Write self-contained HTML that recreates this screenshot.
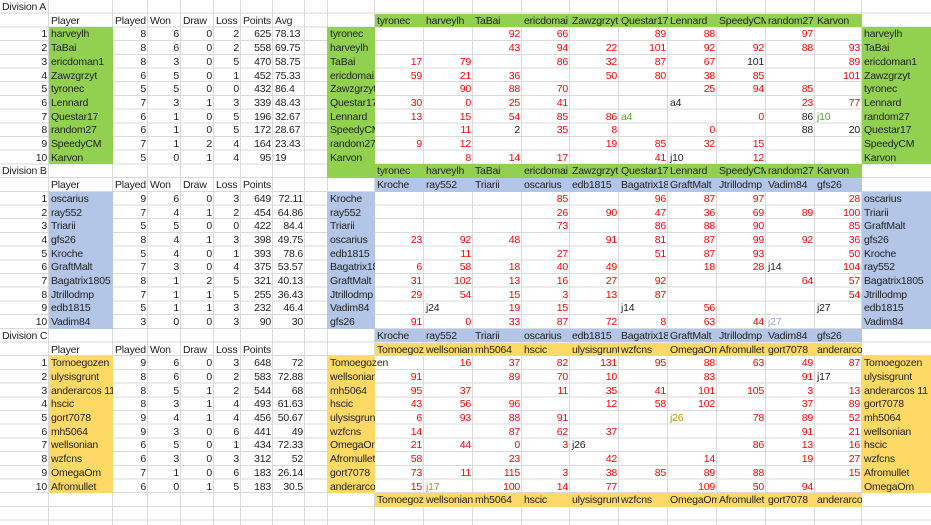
<!DOCTYPE html>
<html><head><meta charset="utf-8"><style>
html,body{margin:0;padding:0}
body{width:931px;height:525px;position:relative;overflow:hidden;background:#fff repeating-linear-gradient(to bottom,transparent 0,transparent 12.7px,#dadada 12.7px,#dadada 13.7px);font-family:"Liberation Sans",sans-serif;font-size:10.5px;letter-spacing:-0.2px;color:#222}
.v{position:absolute;top:0;width:1px;height:525px;background:#dadada}
.f{position:absolute}
.G{background:#92d050}.B{background:#b4c6e7}.Y{background:#ffd966}
.w{position:absolute;left:0;width:931px;height:13.7px}
.w span{position:absolute;top:0;height:13.7px;line-height:14px;overflow:hidden;white-space:nowrap;padding:0 2px;box-sizing:border-box}
.R{text-align:right}
.w span.X{overflow:visible;width:auto}
.x{color:#f00}.cg{color:#4ea72e}.cb{color:#8ea9db}.co{color:#bf8f00}
.a{left:0;width:49px}.b{left:49px;width:64px}.c{left:113px;width:35px}.d{left:148px;width:33px}.e{left:181px;width:33px}.ff{left:214px;width:27px}.g{left:241px;width:32px}.h{left:273px;width:32px}.i{left:305px;width:23px}.j{left:328px;width:47px}
.k{left:375px;width:49px}.l{left:424px;width:49px}.m{left:473px;width:49px}.n{left:522px;width:48px}.o{left:570px;width:49px}.p{left:619px;width:49px}.q{left:668px;width:49px}.r{left:717px;width:49px}.s{left:766px;width:49px}.t{left:815px;width:47px}.u{left:862px;width:69px}
</style></head><body>
<div class="v" style="left:48px"></div><div class="v" style="left:112px"></div><div class="v" style="left:147px"></div><div class="v" style="left:180px"></div><div class="v" style="left:213px"></div><div class="v" style="left:240px"></div><div class="v" style="left:272px"></div><div class="v" style="left:304px"></div><div class="v" style="left:327px"></div><div class="v" style="left:374px"></div><div class="v" style="left:423px"></div><div class="v" style="left:472px"></div><div class="v" style="left:521px"></div><div class="v" style="left:569px"></div><div class="v" style="left:618px"></div><div class="v" style="left:667px"></div><div class="v" style="left:716px"></div><div class="v" style="left:765px"></div><div class="v" style="left:814px"></div><div class="v" style="left:861px"></div>

<div class="f G" style="left:49px;top:27.4px;width:64px;height:137px"></div>
<div class="f G" style="left:327px;top:27.4px;width:48px;height:151px"></div>
<div class="f G" style="left:375px;top:13.7px;width:487px;height:13.7px"></div>
<div class="f G" style="left:375px;top:164.4px;width:487px;height:13.7px"></div>
<div class="f G" style="left:862px;top:27.4px;width:69px;height:137px"></div>

<div class="f B" style="left:49px;top:191.8px;width:64px;height:137px"></div>
<div class="f B" style="left:327px;top:191.8px;width:48px;height:137px"></div>
<div class="f B" style="left:375px;top:178.1px;width:487px;height:13.7px"></div>
<div class="f B" style="left:375px;top:328.8px;width:487px;height:13.7px"></div>
<div class="f B" style="left:862px;top:191.8px;width:69px;height:137px"></div>

<div class="f Y" style="left:49px;top:356.2px;width:64px;height:137px"></div>
<div class="f Y" style="left:327px;top:356.2px;width:48px;height:137px"></div>
<div class="f Y" style="left:375px;top:342.5px;width:487px;height:13.7px"></div>
<div class="f Y" style="left:375px;top:493.2px;width:487px;height:13.7px"></div>
<div class="f Y" style="left:862px;top:356.2px;width:69px;height:137px"></div>

<!-- Division A -->
<div class="w" style="top:0"><span class="a X">Division A</span></div>
<div class="w" style="top:13.7px"><span class="b">Player</span><span class="c">Played</span><span class="d">Won</span><span class="e">Draw</span><span class="ff">Loss</span><span class="g">Points</span><span class="h">Avg</span>
<span class="k">tyronec</span><span class="l">harveylh</span><span class="m">TaBai</span><span class="n">ericdomai</span><span class="o">Zawzgrzyt</span><span class="p">Questar17</span><span class="q">Lennard</span><span class="r">SpeedyCM</span><span class="s">random27</span><span class="t">Karvon</span></div>
<div class="w" style="top:27.4px"><span class="a R">1</span><span class="b">harveylh</span><span class="c R">8</span><span class="d R">6</span><span class="e R">0</span><span class="ff R">2</span><span class="g R">625</span><span class="h">78.13</span><span class="j">tyronec</span><span class="m R x">92</span><span class="n R x">66</span><span class="p R x">89</span><span class="q R x">88</span><span class="s R x">97</span><span class="u">harveylh</span></div>
<div class="w" style="top:41.1px"><span class="a R">2</span><span class="b">TaBai</span><span class="c R">8</span><span class="d R">6</span><span class="e R">0</span><span class="ff R">2</span><span class="g R">558</span><span class="h">69.75</span><span class="j">harveylh</span><span class="m R x">43</span><span class="n R x">94</span><span class="o R x">22</span><span class="p R x">101</span><span class="q R x">92</span><span class="r R x">92</span><span class="s R x">88</span><span class="t R x">93</span><span class="u">TaBai</span></div>
<div class="w" style="top:54.8px"><span class="a R">3</span><span class="b">ericdoman1</span><span class="c R">8</span><span class="d R">3</span><span class="e R">0</span><span class="ff R">5</span><span class="g R">470</span><span class="h">58.75</span><span class="j">TaBai</span><span class="k R x">17</span><span class="l R x">79</span><span class="n R x">86</span><span class="o R x">32</span><span class="p R x">87</span><span class="q R x">67</span><span class="r R">101</span><span class="t R x">89</span><span class="u">ericdoman1</span></div>
<div class="w" style="top:68.5px"><span class="a R">4</span><span class="b">Zawzgrzyt</span><span class="c R">6</span><span class="d R">5</span><span class="e R">0</span><span class="ff R">1</span><span class="g R">452</span><span class="h">75.33</span><span class="j">ericdomai</span><span class="k R x">59</span><span class="l R x">21</span><span class="m R x">36</span><span class="o R x">50</span><span class="p R x">80</span><span class="q R x">38</span><span class="r R x">85</span><span class="t R x">101</span><span class="u">Zawzgrzyt</span></div>
<div class="w" style="top:82.2px"><span class="a R">5</span><span class="b">tyronec</span><span class="c R">5</span><span class="d R">5</span><span class="e R">0</span><span class="ff R">0</span><span class="g R">432</span><span class="h">86.4</span><span class="j">Zawzgrzyt</span><span class="l R x">90</span><span class="m R x">88</span><span class="n R x">70</span><span class="q R x">25</span><span class="r R x">94</span><span class="s R x">85</span><span class="u">tyronec</span></div>
<div class="w" style="top:95.9px"><span class="a R">6</span><span class="b">Lennard</span><span class="c R">7</span><span class="d R">3</span><span class="e R">1</span><span class="ff R">3</span><span class="g R">339</span><span class="h">48.43</span><span class="j">Questar17</span><span class="k R x">30</span><span class="l R x">0</span><span class="m R x">25</span><span class="n R x">41</span><span class="q">a4</span><span class="s R x">23</span><span class="t R x">77</span><span class="u">Lennard</span></div>
<div class="w" style="top:109.6px"><span class="a R">7</span><span class="b">Questar17</span><span class="c R">6</span><span class="d R">1</span><span class="e R">0</span><span class="ff R">5</span><span class="g R">196</span><span class="h">32.67</span><span class="j">Lennard</span><span class="k R x">13</span><span class="l R x">15</span><span class="m R x">54</span><span class="n R x">85</span><span class="o R x">86</span><span class="p cg">a4</span><span class="r R x">0</span><span class="s R">86</span><span class="t cg">j10</span><span class="u">random27</span></div>
<div class="w" style="top:123.3px"><span class="a R">8</span><span class="b">random27</span><span class="c R">6</span><span class="d R">1</span><span class="e R">0</span><span class="ff R">5</span><span class="g R">172</span><span class="h">28.67</span><span class="j">SpeedyCM</span><span class="l R x">11</span><span class="m R">2</span><span class="n R x">35</span><span class="o R x">8</span><span class="q R x">0</span><span class="s R">88</span><span class="t R">20</span><span class="u">Questar17</span></div>
<div class="w" style="top:137px"><span class="a R">9</span><span class="b">SpeedyCM</span><span class="c R">7</span><span class="d R">1</span><span class="e R">2</span><span class="ff R">4</span><span class="g R">164</span><span class="h">23.43</span><span class="j">random27</span><span class="k R x">9</span><span class="l R x">12</span><span class="o R x">19</span><span class="p R x">85</span><span class="q R x">32</span><span class="r R x">15</span><span class="u">SpeedyCM</span></div>
<div class="w" style="top:150.7px"><span class="a R">10</span><span class="b">Karvon</span><span class="c R">5</span><span class="d R">0</span><span class="e R">1</span><span class="ff R">4</span><span class="g R">95</span><span class="h">19</span><span class="j">Karvon</span><span class="l R x">8</span><span class="m R x">14</span><span class="n R x">17</span><span class="p R x">41</span><span class="q">j10</span><span class="r R x">12</span><span class="u">Karvon</span></div>
<div class="w" style="top:164.4px"><span class="a X">Division B</span><span class="k">tyronec</span><span class="l">harveylh</span><span class="m">TaBai</span><span class="n">ericdomai</span><span class="o">Zawzgrzyt</span><span class="p">Questar17</span><span class="q">Lennard</span><span class="r">SpeedyCM</span><span class="s">random27</span><span class="t">Karvon</span></div>

<!-- Division B -->
<div class="w" style="top:178.1px"><span class="b">Player</span><span class="c">Played</span><span class="d">Won</span><span class="e">Draw</span><span class="ff">Loss</span><span class="g">Points</span>
<span class="k">Kroche</span><span class="l">ray552</span><span class="m">Triarii</span><span class="n">oscarius</span><span class="o">edb1815</span><span class="p">Bagatrix1805</span><span class="q">GraftMalt</span><span class="r">Jtrillodmp</span><span class="s">Vadim84</span><span class="t">gfs26</span></div>
<div class="w" style="top:191.8px"><span class="a R">1</span><span class="b">oscarius</span><span class="c R">9</span><span class="d R">6</span><span class="e R">0</span><span class="ff R">3</span><span class="g R">649</span><span class="h R">72.11</span><span class="j">Kroche</span><span class="n R x">85</span><span class="p R x">96</span><span class="q R x">87</span><span class="r R x">97</span><span class="t R x">28</span><span class="u">oscarius</span></div>
<div class="w" style="top:205.5px"><span class="a R">2</span><span class="b">ray552</span><span class="c R">7</span><span class="d R">4</span><span class="e R">1</span><span class="ff R">2</span><span class="g R">454</span><span class="h R">64.86</span><span class="j">ray552</span><span class="n R x">26</span><span class="o R x">90</span><span class="p R x">47</span><span class="q R x">36</span><span class="r R x">69</span><span class="s R x">89</span><span class="t R x">100</span><span class="u">Triarii</span></div>
<div class="w" style="top:219.2px"><span class="a R">3</span><span class="b">Triarii</span><span class="c R">5</span><span class="d R">5</span><span class="e R">0</span><span class="ff R">0</span><span class="g R">422</span><span class="h R">84.4</span><span class="j">Triarii</span><span class="n R x">73</span><span class="p R x">86</span><span class="q R x">88</span><span class="r R x">90</span><span class="t R x">85</span><span class="u">GraftMalt</span></div>
<div class="w" style="top:232.9px"><span class="a R">4</span><span class="b">gfs26</span><span class="c R">8</span><span class="d R">4</span><span class="e R">1</span><span class="ff R">3</span><span class="g R">398</span><span class="h R">49.75</span><span class="j">oscarius</span><span class="k R x">23</span><span class="l R x">92</span><span class="m R x">48</span><span class="o R x">91</span><span class="p R x">81</span><span class="q R x">87</span><span class="r R x">99</span><span class="s R x">92</span><span class="t R x">36</span><span class="u">gfs26</span></div>
<div class="w" style="top:246.6px"><span class="a R">5</span><span class="b">Kroche</span><span class="c R">5</span><span class="d R">4</span><span class="e R">0</span><span class="ff R">1</span><span class="g R">393</span><span class="h R">78.6</span><span class="j">edb1815</span><span class="l R x">11</span><span class="n R x">27</span><span class="p R x">51</span><span class="q R x">87</span><span class="r R x">93</span><span class="t R x">50</span><span class="u">Kroche</span></div>
<div class="w" style="top:260.3px"><span class="a R">6</span><span class="b">GraftMalt</span><span class="c R">7</span><span class="d R">3</span><span class="e R">0</span><span class="ff R">4</span><span class="g R">375</span><span class="h R">53.57</span><span class="j">Bagatrix1805</span><span class="k R x">6</span><span class="l R x">58</span><span class="m R x">18</span><span class="n R x">40</span><span class="o R x">49</span><span class="q R x">18</span><span class="r R x">28</span><span class="s">j14</span><span class="t R x">104</span><span class="u">ray552</span></div>
<div class="w" style="top:274px"><span class="a R">7</span><span class="b">Bagatrix1805</span><span class="c R">8</span><span class="d R">1</span><span class="e R">2</span><span class="ff R">5</span><span class="g R">321</span><span class="h R">40.13</span><span class="j">GraftMalt</span><span class="k R x">31</span><span class="l R x">102</span><span class="m R x">13</span><span class="n R x">16</span><span class="o R x">27</span><span class="p R x">92</span><span class="s R x">64</span><span class="t R x">57</span><span class="u">Bagatrix1805</span></div>
<div class="w" style="top:287.7px"><span class="a R">8</span><span class="b">Jtrillodmp</span><span class="c R">7</span><span class="d R">1</span><span class="e R">1</span><span class="ff R">5</span><span class="g R">255</span><span class="h R">36.43</span><span class="j">Jtrillodmp</span><span class="k R x">29</span><span class="l R x">54</span><span class="m R x">15</span><span class="n R x">3</span><span class="o R x">13</span><span class="p R x">87</span><span class="t R x">54</span><span class="u">Jtrillodmp</span></div>
<div class="w" style="top:301.4px"><span class="a R">9</span><span class="b">edb1815</span><span class="c R">5</span><span class="d R">1</span><span class="e R">1</span><span class="ff R">3</span><span class="g R">232</span><span class="h R">46.4</span><span class="j">Vadim84</span><span class="l">j24</span><span class="m R x">19</span><span class="n R x">15</span><span class="p">j14</span><span class="q R x">56</span><span class="t">j27</span><span class="u">edb1815</span></div>
<div class="w" style="top:315.1px"><span class="a R">10</span><span class="b">Vadim84</span><span class="c R">3</span><span class="d R">0</span><span class="e R">0</span><span class="ff R">3</span><span class="g R">90</span><span class="h R">30</span><span class="j">gfs26</span><span class="k R x">91</span><span class="l R x">0</span><span class="m R x">33</span><span class="n R x">87</span><span class="o R x">72</span><span class="p R x">8</span><span class="q R x">63</span><span class="r R x">44</span><span class="s cb">j27</span><span class="u">Vadim84</span></div>
<div class="w" style="top:328.8px"><span class="a X">Division C</span><span class="k">Kroche</span><span class="l">ray552</span><span class="m">Triarii</span><span class="n">oscarius</span><span class="o">edb1815</span><span class="p">Bagatrix1805</span><span class="q">GraftMalt</span><span class="r">Jtrillodmp</span><span class="s">Vadim84</span><span class="t">gfs26</span></div>

<!-- Division C -->
<div class="w" style="top:342.5px"><span class="b">Player</span><span class="c">Played</span><span class="d">Won</span><span class="e">Draw</span><span class="ff">Loss</span><span class="g">Points</span>
<span class="k">Tomoegozen</span><span class="l">wellsonian</span><span class="m">mh5064</span><span class="n">hscic</span><span class="o">ulysisgrunt</span><span class="p">wzfcns</span><span class="q">OmegaOm</span><span class="r">Afromullet</span><span class="s">gort7078</span><span class="t">anderarcos</span></div>
<div class="w" style="top:356.2px"><span class="a R">1</span><span class="b">Tomoegozen</span><span class="c R">9</span><span class="d R">6</span><span class="e R">0</span><span class="ff R">3</span><span class="g R">648</span><span class="h R">72</span><span class="j X">Tomoegozen</span><span class="l R x">16</span><span class="m R x">37</span><span class="n R x">82</span><span class="o R x">131</span><span class="p R x">95</span><span class="q R x">88</span><span class="r R x">63</span><span class="s R x">49</span><span class="t R x">87</span><span class="u">Tomoegozen</span></div>
<div class="w" style="top:369.9px"><span class="a R">2</span><span class="b">ulysisgrunt</span><span class="c R">8</span><span class="d R">6</span><span class="e R">0</span><span class="ff R">2</span><span class="g R">583</span><span class="h R">72.88</span><span class="j">wellsonian</span><span class="k R x">91</span><span class="m R x">89</span><span class="n R x">70</span><span class="o R x">10</span><span class="q R x">83</span><span class="s R x">91</span><span class="t">j17</span><span class="u">ulysisgrunt</span></div>
<div class="w" style="top:383.6px"><span class="a R">3</span><span class="b">anderarcos 11</span><span class="c R">8</span><span class="d R">5</span><span class="e R">1</span><span class="ff R">2</span><span class="g R">544</span><span class="h R">68</span><span class="j">mh5064</span><span class="k R x">95</span><span class="l R x">37</span><span class="n R x">11</span><span class="o R x">35</span><span class="p R x">41</span><span class="q R x">101</span><span class="r R x">105</span><span class="s R x">3</span><span class="t R x">13</span><span class="u">anderarcos 11</span></div>
<div class="w" style="top:397.3px"><span class="a R">4</span><span class="b">hscic</span><span class="c R">8</span><span class="d R">3</span><span class="e R">1</span><span class="ff R">4</span><span class="g R">493</span><span class="h R">61.63</span><span class="j">hscic</span><span class="k R x">43</span><span class="l R x">56</span><span class="m R x">96</span><span class="o R x">12</span><span class="p R x">58</span><span class="q R x">102</span><span class="s R x">37</span><span class="t R x">89</span><span class="u">gort7078</span></div>
<div class="w" style="top:411px"><span class="a R">5</span><span class="b">gort7078</span><span class="c R">9</span><span class="d R">4</span><span class="e R">1</span><span class="ff R">4</span><span class="g R">456</span><span class="h R">50.67</span><span class="j">ulysisgrunt</span><span class="k R x">6</span><span class="l R x">93</span><span class="m R x">88</span><span class="n R x">91</span><span class="q co">j26</span><span class="r R x">78</span><span class="s R x">89</span><span class="t R x">52</span><span class="u">mh5064</span></div>
<div class="w" style="top:424.7px"><span class="a R">6</span><span class="b">mh5064</span><span class="c R">9</span><span class="d R">3</span><span class="e R">0</span><span class="ff R">6</span><span class="g R">441</span><span class="h R">49</span><span class="j">wzfcns</span><span class="k R x">14</span><span class="m R x">87</span><span class="n R x">62</span><span class="o R x">37</span><span class="s R x">91</span><span class="t R x">21</span><span class="u">wellsonian</span></div>
<div class="w" style="top:438.4px"><span class="a R">7</span><span class="b">wellsonian</span><span class="c R">6</span><span class="d R">5</span><span class="e R">0</span><span class="ff R">1</span><span class="g R">434</span><span class="h R">72.33</span><span class="j">OmegaOm</span><span class="k R x">21</span><span class="l R x">44</span><span class="m R x">0</span><span class="n R x">3</span><span class="o">j26</span><span class="r R x">86</span><span class="s R x">13</span><span class="t R x">16</span><span class="u">hscic</span></div>
<div class="w" style="top:452.1px"><span class="a R">8</span><span class="b">wzfcns</span><span class="c R">6</span><span class="d R">3</span><span class="e R">0</span><span class="ff R">3</span><span class="g R">312</span><span class="h R">52</span><span class="j">Afromullet</span><span class="k R x">58</span><span class="m R x">23</span><span class="o R x">42</span><span class="q R x">14</span><span class="s R x">19</span><span class="t R x">27</span><span class="u">wzfcns</span></div>
<div class="w" style="top:465.8px"><span class="a R">9</span><span class="b">OmegaOm</span><span class="c R">7</span><span class="d R">1</span><span class="e R">0</span><span class="ff R">6</span><span class="g R">183</span><span class="h R">26.14</span><span class="j">gort7078</span><span class="k R x">73</span><span class="l R x">11</span><span class="m R x">115</span><span class="n R x">3</span><span class="o R x">38</span><span class="p R x">85</span><span class="q R x">89</span><span class="r R x">88</span><span class="t R x">15</span><span class="u">Afromullet</span></div>
<div class="w" style="top:479.5px"><span class="a R">10</span><span class="b">Afromullet</span><span class="c R">6</span><span class="d R">0</span><span class="e R">1</span><span class="ff R">5</span><span class="g R">183</span><span class="h R">30.5</span><span class="j">anderarcos</span><span class="k R x">15</span><span class="l co">j17</span><span class="m R x">100</span><span class="n R x">14</span><span class="o R x">77</span><span class="q R x">109</span><span class="r R x">50</span><span class="s R x">94</span><span class="u">OmegaOm</span></div>
<div class="w" style="top:493.2px"><span class="k">Tomoegozen</span><span class="l">wellsonian</span><span class="m">mh5064</span><span class="n">hscic</span><span class="o">ulysisgrunt</span><span class="p">wzfcns</span><span class="q">OmegaOm</span><span class="r">Afromullet</span><span class="s">gort7078</span><span class="t">anderarcos</span></div>
</body></html>
